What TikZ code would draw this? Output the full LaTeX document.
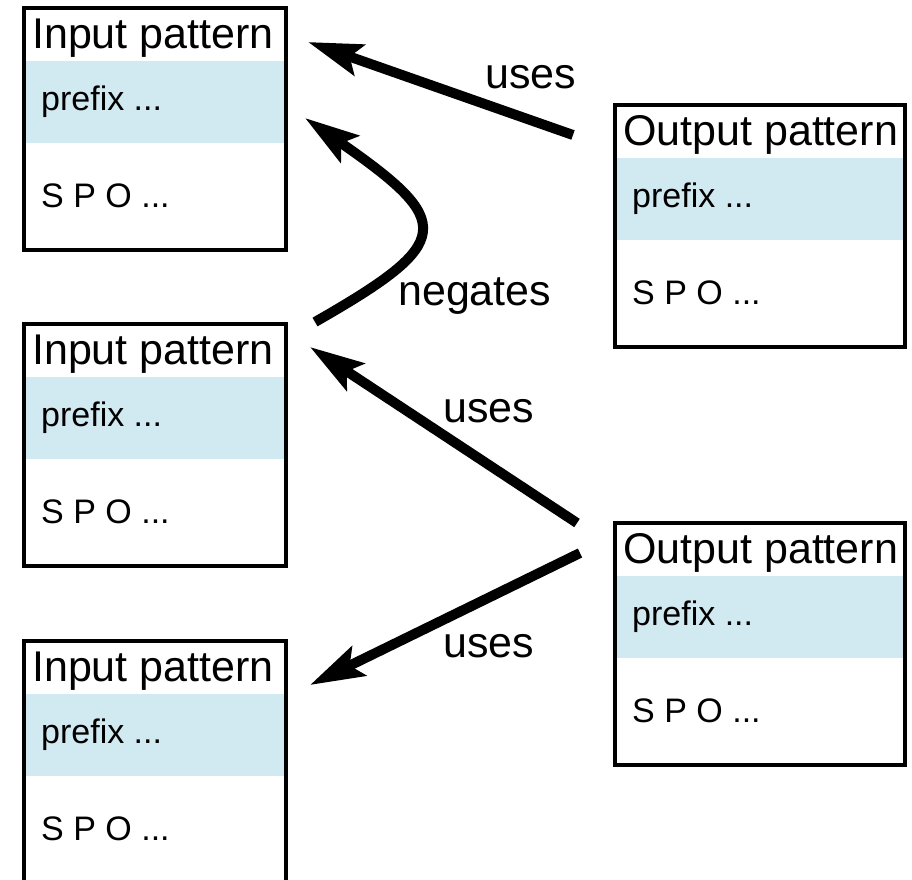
\documentclass[tikz,border=0pt]{standalone}
\usepackage{fontspec}
\setmainfont{Liberation Sans}
\usetikzlibrary{arrows.meta,calc}
\definecolor{bandblue}{RGB}{209,233,240}
\newcommand\patternbox[5]{% #1 name, #2 left, #3 top, #4 width, #5 title
  \fill[bandblue] (#2,#3+53) rectangle (#2+#4,#3+135);
  \node[pbox, minimum width=#4pt] (#1) at (#2,#3) {};
  \node[ptitle] (#1-t) at (#2+8,#3+40) {#5};
  \node[prow] (#1-p) at (#2+17,#3+102) {prefix ...};
  \node[prow] (#1-s) at (#2+17,#3+199) {S P O ...};
}
\begin{document}
\begin{tikzpicture}[x=1pt,y=-1pt,
  pbox/.style={draw=black, line width=3.5pt, minimum height=242pt, inner sep=0pt, outer sep=0pt, anchor=north west},
  ptitle/.style={font=\fontsize{43}{43}\selectfont, anchor=base west, inner sep=0pt},
  prow/.style={font=\fontsize{34}{34}\selectfont, anchor=base west, inner sep=0pt},
  lbl/.style={font=\fontsize{43}{43}\selectfont, anchor=base west, inner sep=0pt},
  arr/.style={line width=10pt, -{Stealth[length=54pt,width=32pt,inset=10pt]}},
]
\useasboundingbox (0,0) rectangle (912,879);
\clip (0,0) rectangle (912,879);

\patternbox{in1}{24}{8}{262}{Input pattern}
\patternbox{in2}{24}{324}{262}{Input pattern}
\patternbox{in3}{24}{641}{262}{Input pattern}
\patternbox{out1}{615}{105}{290}{Output pattern}
\patternbox{out2}{615}{523}{290}{Output pattern}

\coordinate (a1s) at ($(out1.north west)+(-42,30)$);
\coordinate (a1e) at ($(in1.north east)+(22,34)$);
\coordinate (a2s) at ($(in2.north east)+(29,-2)$);
\coordinate (a2e) at ($(in1.north east)+(19,110)$);
\coordinate (a3s) at ($(out2.north west)+(-38,0)$);
\coordinate (a3e) at ($(in2.north east)+(24,23)$);
\coordinate (a4s) at ($(out2.north west)+(-35,30)$);
\coordinate (a4e) at ($(in3.north east)+(24,44)$);

\draw[arr] (a1s) -- (a1e);
\draw[arr] (a2s) .. controls (455,242) and (455,222) .. (a2e);
\draw[arr] (a3s) -- (a3e);
\draw[arr] (a4s) -- (a4e);

\node[lbl] (l1) at (485,88) {uses};
\node[lbl] (l2) at (398,305) {negates};
\node[lbl] (l3) at (443,422) {uses};
\node[lbl] (l4) at (443,657) {uses};
\end{tikzpicture}
\end{document}
